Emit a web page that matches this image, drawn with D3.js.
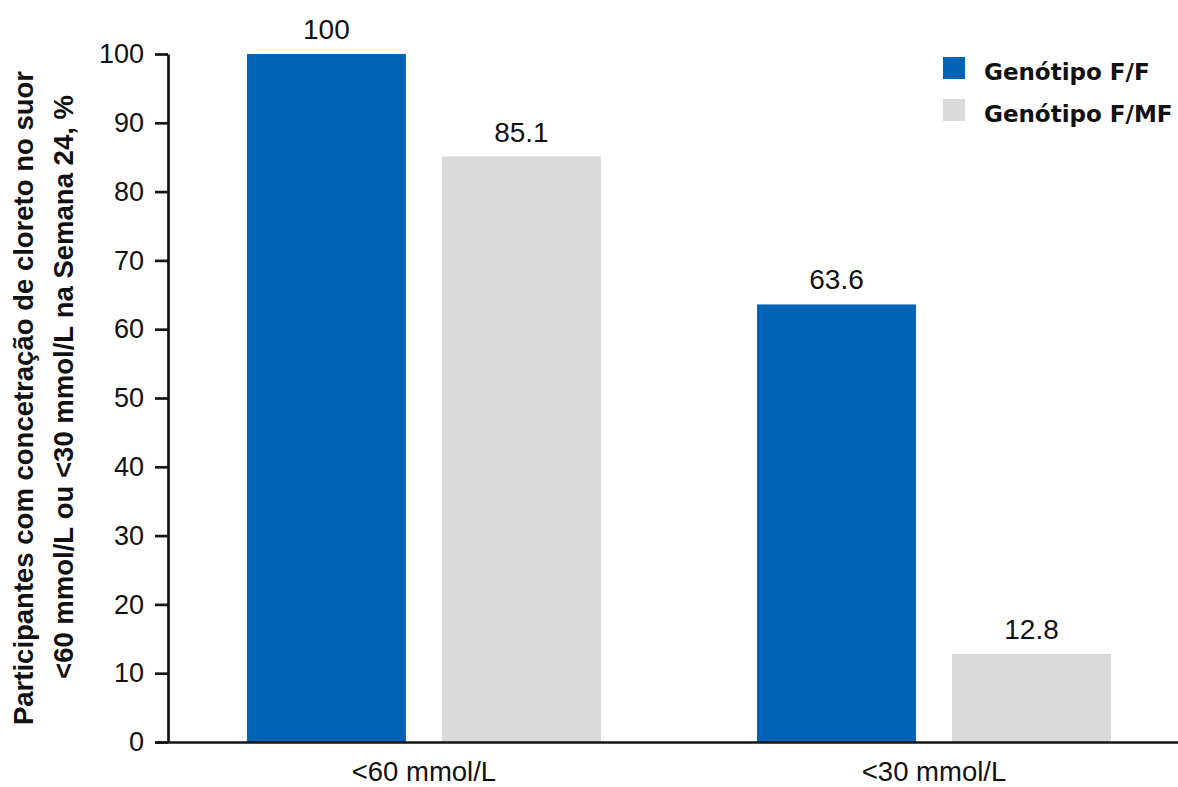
<!DOCTYPE html>
<html lang="pt">
<head>
<meta charset="utf-8">
<script src="https://cdn.jsdelivr.net/npm/d3@7"></script>
<style>
  html, body { margin: 0; padding: 0; background: #fff; }
  svg { display: block; }
  text { font-family: "Liberation Sans", Arial, sans-serif; fill: #111; }
</style>
</head>
<body>
<svg id="chart" width="1178" height="787"></svg>
<script>
// Thresholds on the x axis, genotype series, and values (% of participants)
const categories = ["<60 mmol/L", "<30 mmol/L"];
const series = ["Genótipo F/F", "Genótipo F/MF"];
const valuesFF = [100, 63.6];
const valuesFMF = [85.1, 12.8];
const yTicks = [0, 10, 20, 30, 40, 50, 60, 70, 80, 90, 100];
const seriesColors = ["#0064B6", "#D9D9D9"];

const rows = categories.map((c, i) => ({
  category: c,
  values: [
    { key: series[0], value: valuesFF[i] },
    { key: series[1], value: valuesFMF[i] }
  ]
}));

const svg = d3.select("#chart");
const plotLeft = 168, plotRight = 1178, plotTop = 54, plotBottom = 742;

const x0 = d3.scaleBand()
  .domain(categories)
  .range([plotLeft, plotRight])
  .paddingInner(0.306)
  .paddingOuter(0.143)
  .align(0.541);

const x1 = d3.scaleBand()
  .domain(series)
  .range([0, x0.bandwidth()])
  .paddingInner(0.185);

const y = d3.scaleLinear().domain([0, 100]).range([plotBottom, plotTop]);

const color = d3.scaleOrdinal().domain(series).range(seriesColors);

// Bars
const groups = svg.append("g")
  .selectAll("g")
  .data(rows)
  .join("g")
  .attr("transform", d => `translate(${x0(d.category)},0)`);

groups.selectAll("rect")
  .data(d => d.values)
  .join("rect")
  .attr("x", d => x1(d.key))
  .attr("y", d => y(d.value))
  .attr("width", x1.bandwidth())
  .attr("height", d => y(0) - y(d.value))
  .attr("fill", d => color(d.key));

// Value labels above bars
groups.selectAll("text.value")
  .data(d => d.values)
  .join("text")
  .attr("class", "value")
  .attr("x", d => x1(d.key) + x1.bandwidth() / 2)
  .attr("y", d => y(d.value) - 15)
  .attr("text-anchor", "middle")
  .style("font-size", "28px")
  .text(d => d3.format("")(d.value));

// Y axis
const yAxis = svg.append("g")
  .attr("transform", `translate(${plotLeft},0)`)
  .call(d3.axisLeft(y).tickValues(yTicks).tickSize(13).tickSizeOuter(0).tickPadding(11));
yAxis.selectAll("path, line").attr("stroke", "#151515").attr("stroke-width", 2.7);
yAxis.selectAll("text").style("font-size", "27px").style("fill", "#111")
  .attr("font-family", null);

// X axis
const xAxis = svg.append("g")
  .attr("transform", `translate(0,${plotBottom})`)
  .call(d3.axisBottom(x0).tickSize(0).tickSizeOuter(0).tickPadding(19));
xAxis.selectAll("path").attr("stroke", "#151515").attr("stroke-width", 2.7)
  .attr("d", `M${plotLeft - 13},0.5H${plotRight}`);
xAxis.selectAll("text").style("font-size", "27.5px").style("fill", "#111")
  .attr("font-family", null);

// Y axis title, two rotated lines
const title = svg.append("g").style("font-size", "27.5px").style("font-weight", "bold");
title.append("text")
  .attr("transform", "translate(33,398) rotate(-90)")
  .attr("text-anchor", "middle")
  .text("Participantes com concetração de cloreto no suor");
const line2 = title.append("text")
  .attr("transform", "translate(73,387) rotate(-90)")
  .attr("text-anchor", "middle");
[["<60 mmol/L", 900], [" ou ", 700], ["<30 mmol/L", 900], [" na Semana 24, %", 700]]
  .forEach(([t, w]) => line2.append("tspan").style("font-weight", w).text(t));

// Legend
const legend = svg.append("g").attr("transform", "translate(943,57)");
const items = legend.selectAll("g")
  .data(series)
  .join("g")
  .attr("transform", (d, i) => `translate(0,${i * 42})`);
items.append("rect").attr("width", 22).attr("height", 22).attr("fill", d => color(d));
items.append("text")
  .attr("x", 41)
  .attr("y", 23)
  .style("font-family", "'DejaVu Sans', sans-serif")
  .style("font-weight", "bold")
  .style("font-size", "23px")
  .text(d => d);
</script>
</body>
</html>
